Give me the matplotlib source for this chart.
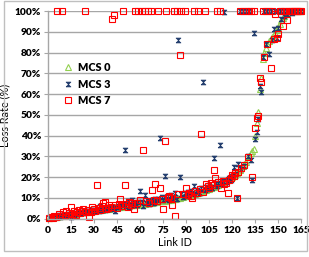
import matplotlib
matplotlib.use("Agg")
import matplotlib.pyplot as plt
import matplotlib.patches as patches
import numpy as np

plt.rcParams['font.family'] = ['Lato', 'DejaVu Sans']
plt.rcParams['font.weight'] = 'heavy'

# loss rate (%) per link, links 1..165
link_ids = list(range(1, 166))

mcs0 = [0.3, 0.5, 0.6, 0.8, 0.9, 1.0, 1.2, 1.3, 1.4, 1.5,
        1.6, 1.8, 1.9, 2.0, 2.1, 2.2, 2.4, 2.5, 2.6, 2.7,
        2.8, 3.0, 3.1, 3.2, 3.3, 3.4, 3.5, 3.6, 3.7, 3.8,
        4.0, 4.1, 4.2, 4.3, 4.4, 4.5, 4.6, 4.7, 4.8, 4.9,
        5.0, 5.1, 5.2, 5.4, 5.5, 5.6, 5.7, 5.8, 5.9, 6.0,
        6.1, 6.2, 6.3, 6.4, 6.5, 6.6, 6.7, 6.8, 6.9, 7.0,
        7.1, 7.2, 7.3, 7.4, 7.5, 7.6, 7.7, 7.8, 7.9, 8.0,
        8.2, 8.3, 8.4, 8.5, 8.6, 8.7, 8.8, 9.0, 9.1, 9.2,
        9.4, 9.5, 9.7, 9.8, 10.0, 10.2, 10.3, 10.5, 10.7, 10.9,
        11.1, 11.3, 11.5, 11.7, 11.9, 12.1, 12.3, 12.5, 12.7, 13.0,
        13.3, 13.6, 13.9, 14.2, 14.5, 14.8, 15.1, 15.4, 15.7, 16.0,
        16.3, 16.6, 17.0, 17.4, 17.8, 18.2, 18.6, 19.0, 19.5, 20.0,
        20.6, 21.2, 21.8, 22.5, 23.3, 24.2, 25.2, 26.3, 27.5, 28.8,
        30.2, 31.5, 32.8, 33.5, 40.0, 46.0, 51.5, 62.5, 68.0, 77.0,
        80.0, 82.0, 84.0, 85.5, 86.5, 87.5, 88.5, 89.5, 91.0, 92.5,
        94.0, 95.5, 96.5, 97.5, 98.5, 99.0, 99.5, 100, 100, 100,
        100, 100, 100, 100, 100]

mcs3 = [0.2, 0.6, 0.4, 1.0, 0.7, 1.3, 1.8, 1.0, 1.6, 1.2,
        1.9, 1.5, 2.2, 1.7, 0.9, 2.5, 2.0, 2.8, 2.3, 3.0,
        2.6, 3.2, 2.9, 3.5, 3.0, 3.8, 3.3, 4.0, 3.4, 4.2,
        3.6, 4.5, 3.9, 6.2, 4.1, 5.0, 4.4, 5.2, 4.6, 5.5,
        4.8, 5.6, 5.0, 3.8, 5.8, 6.0, 5.4, 6.6, 7.2, 33.0,
        6.0, 8.5, 5.8, 7.0, 9.2, 6.4, 7.5, 6.8, 7.9, 13.3,
        8.0, 6.0, 11.5, 7.4, 8.6, 7.2, 8.2, 9.0, 7.8, 9.5,
        8.8, 9.4, 38.7, 10.5, 8.9, 20.5, 9.6, 10.8, 9.0, 11.2,
        9.8, 10.4, 12.5, 9.5, 86.0, 19.9, 11.8, 10.6, 12.2, 11.0,
        12.8, 11.6, 13.5, 12.4, 15.8, 12.0, 14.0, 13.2, 12.6, 14.6,
        65.7, 13.8, 15.2, 14.4, 16.0, 15.5, 14.9, 29.4, 16.5, 15.8,
        17.2, 35.3, 16.8, 18.0, 99.5, 17.6, 18.6, 19.4, 18.8, 20.8,
        24.7, 21.5, 10.1, 26.3, 100, 23.8, 100, 25.5, 100, 30.0,
        100, 28.5, 18.6, 89.4, 38.2, 41.9, 48.0, 64.0, 61.0, 77.8,
        100, 84.0, 100, 79.4, 100, 86.0, 91.3, 100, 87.0, 92.0,
        100, 96.0, 100, 97.5, 100, 98.5, 100, 100, 99.0, 100,
        100, 100, 100, 100, 100]

mcs7 = [0.5, 1.0, 0.3, 1.5, 0.8, 100, 2.5, 1.2, 100, 3.2,
        2.0, 3.8, 1.5, 2.8, 5.5, 2.2, 3.5, 1.8, 3.0, 4.0,
        2.6, 3.6, 4.5, 100, 3.0, 4.2, 1.0, 3.4, 5.8, 4.8,
        3.8, 16.2, 5.0, 4.2, 6.0, 7.5, 8.0, 4.5, 5.2, 6.4,
        5.5, 96.0, 98.0, 6.8, 5.0, 7.0, 9.5, 6.2, 100, 16.0,
        7.2, 5.8, 8.0, 6.5, 7.6, 4.5, 100, 7.8, 100, 9.0,
        100, 33.0, 100, 8.5, 100, 7.6, 100, 14.0, 9.2, 16.5,
        8.4, 100, 15.0, 9.6, 4.7, 37.2, 100, 10.6, 11.0, 9.8,
        6.6, 100, 1.5, 100, 11.8, 79.0, 100, 12.0, 100, 15.0,
        11.5, 12.6, 10.8, 10.0, 100, 13.2, 12.2, 100, 14.5, 40.8,
        13.0, 100, 16.5, 15.6, 14.8, 17.2, 16.0, 23.4, 19.4, 100,
        17.5, 100, 15.0, 18.2, 16.8, 17.0, 12.5, 18.8, 19.6, 21.0,
        20.5, 22.0, 10.1, 22.6, 100, 24.5, 100, 26.0, 100, 29.8,
        100, 100, 20.2, 100, 43.8, 48.3, 49.5, 67.6, 65.7, 100,
        78.0, 100, 84.0, 100, 72.7, 100, 86.4, 98.4, 87.2, 88.8,
        100, 100, 92.8, 100, 100, 95.7, 100, 100, 100, 100,
        100, 100, 100, 100, 100]

x_ticks = list(range(0, 166, 15))
y_ticks = list(range(0, 101, 10))

green = '#92D050'
navy = '#1F3A6B'
red = '#FF0000'
grey = '#A6A6A6'

hourglass = [(-1, -1), (1, -1), (-1, 1), (1, 1), (-1, -1)]

fig = plt.figure(figsize=(3.09, 2.57), dpi=100)
ax = fig.add_axes([0.155, 0.149, 0.820, 0.808])

ax.plot(link_ids, mcs0, ls='none', marker='^', ms=4, mfc='none', mec=green,
        mew=0.8, clip_on=False, label='MCS 0')
ax.plot(link_ids, mcs3, ls='none', marker=hourglass, ms=3.5, mfc=navy, mec=navy,
        mew=0.5, clip_on=False, label='MCS 3')
ax.plot(link_ids, mcs7, ls='none', marker='s', ms=3.8, mfc='none', mec=red,
        mew=0.8, clip_on=False, label='MCS 7')

ax.set_xlim(0, 165)
ax.set_ylim(0, 100)
ax.set_xticks(x_ticks)
ax.set_yticks(y_ticks)
ax.set_yticklabels([f"{v}%" for v in y_ticks])
ax.yaxis.grid(True, color=grey, lw=1)
ax.set_axisbelow(True)
for s in ['top', 'right']:
    ax.spines[s].set_visible(False)
for s in ['left', 'bottom']:
    ax.spines[s].set_color(grey)
    ax.spines[s].set_linewidth(1)
ax.tick_params(axis='both', labelsize=7.3, colors='black', pad=2)
ax.tick_params(axis='x', color=grey, length=3)
ax.tick_params(axis='y', color=grey, length=3)

ax.set_xlabel("Link ID", fontsize=7.8, labelpad=2)
ax.set_ylabel("Loss Rate (%)", fontsize=7.8, labelpad=3)

ax.legend(loc='upper left', bbox_to_anchor=(0.03, 0.79), frameon=False,
          fontsize=7.8, handlelength=1.0, handletextpad=0.4, labelspacing=0.5,
          borderpad=0.2)

fig.patches.append(patches.Rectangle((0.013, 0.023), 0.981, 0.972,
                                     transform=fig.transFigure, fill=False,
                                     edgecolor='#BFBFBF', lw=1))

fig.savefig("out.png", dpi=100)
